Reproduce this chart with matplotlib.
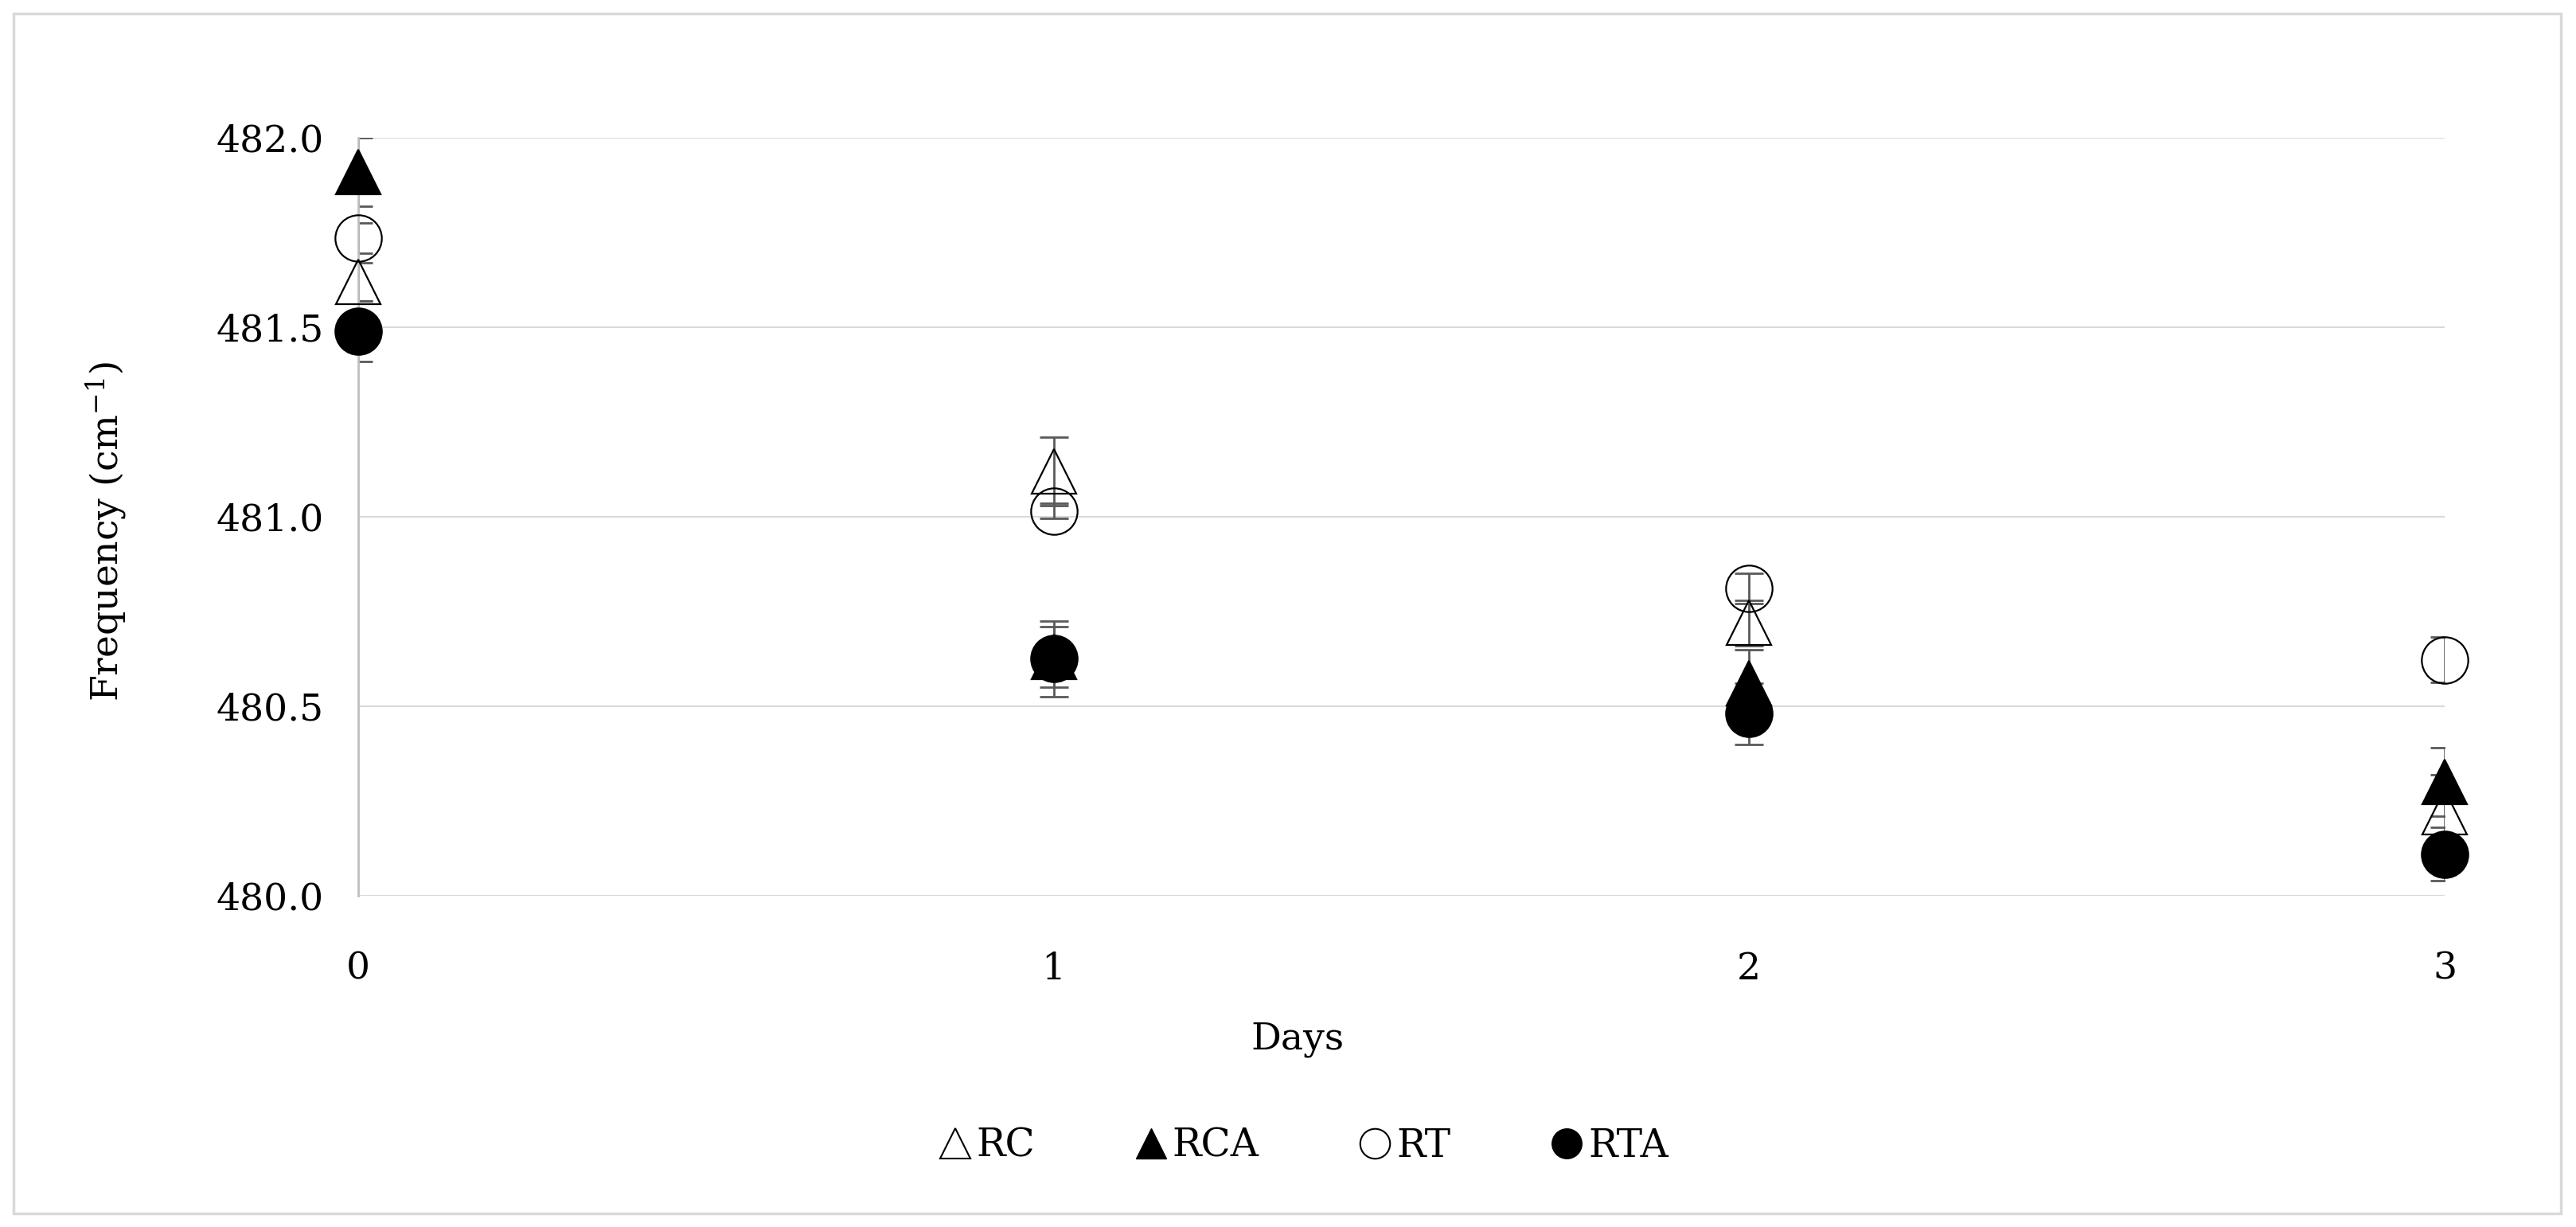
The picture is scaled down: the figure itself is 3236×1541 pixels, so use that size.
import matplotlib
matplotlib.use("Agg")
import matplotlib.pyplot as plt
from matplotlib.lines import Line2D
from matplotlib.patches import Rectangle

plt.rcParams['font.family'] = ['DejaVu Serif']
plt.rcParams['mathtext.fontset'] = 'dejavuserif'

# ================= DATA =================
days = [0, 1, 2, 3]
series = ["RC", "RCA", "RT", "RTA"]

rc = [481.62, 481.12, 480.72, 480.22]
rc_err = [0.05, 0.09, 0.06, 0.10]
rca = [481.91, 480.63, 480.56, 480.30]
rca_err = [0.09, 0.08, 0.09, 0.09]
rt = [481.735, 481.015, 480.81, 480.622]
rt_err = [0.04, 0.02, 0.04, 0.06]
rta = [481.49, 480.625, 480.48, 480.11]
rta_err = [0.08, 0.10, 0.08, 0.07]

yticks = [480.0, 480.5, 481.0, 481.5, 482.0]

# ================= FIGURE =================
fig = plt.figure(figsize=(32.37, 15.41), dpi=100)
ax = fig.add_axes([0.139, 0.270, 0.8097, 0.6177])

estilos = [
    (rc, rc_err, '^', 'none'),
    (rca, rca_err, '^', 'black'),
    (rt, rt_err, 'o', 'none'),
    (rta, rta_err, 'o', 'black'),
]

for vals, err, mk, fc in estilos:
    ax.errorbar(days, vals, yerr=err, fmt='none', ecolor='#595959',
                elinewidth=2, capsize=13, capthick=2, zorder=2)

for vals, err, mk, fc in estilos:
    ax.plot(days, vals, linestyle='none', marker=mk, markersize=40 if mk == '^' else 42,
            markerfacecolor=fc, markeredgecolor='black', markeredgewidth=1.6,
            clip_on=False, zorder=3)

ax.set_xlim(0, 3)
ax.set_ylim(480, 482)
ax.set_yticks(yticks)
ax.set_yticklabels([f"{v:.1f}" for v in yticks])
ax.set_xticks(days)
ax.yaxis.grid(True, color='#d9d9d9', linewidth=1.5)
ax.set_axisbelow(True)
for s in ['top', 'right', 'bottom']:
    ax.spines[s].set_visible(False)
ax.spines['left'].set_color('#bfbfbf')
ax.spines['left'].set_linewidth(2)
ax.tick_params(axis='both', length=0, labelsize=34)
ax.tick_params(axis='y', pad=31)
ax.tick_params(axis='x', pad=50)

fig.text(0.5036, 0.153, "Days", ha='center', va='center', fontsize=34)
fig.text(0.0414, 0.567, "Frequency (cm$^{-1}$)", ha='center', va='center',
         rotation=90, fontsize=34)

handles = [
    Line2D([], [], linestyle='none', marker='^', markersize=28, markerfacecolor='none',
           markeredgecolor='black', markeredgewidth=1.5),
    Line2D([], [], linestyle='none', marker='^', markersize=28, markerfacecolor='black',
           markeredgecolor='black'),
    Line2D([], [], linestyle='none', marker='o', markersize=27, markerfacecolor='none',
           markeredgecolor='black', markeredgewidth=1.5),
    Line2D([], [], linestyle='none', marker='o', markersize=27, markerfacecolor='black',
           markeredgecolor='black'),
]
fig.legend(handles, series, loc='center', bbox_to_anchor=(0.506, 0.066), ncol=4,
           frameon=False, fontsize=35, handlelength=0.8, handletextpad=0.15,
           columnspacing=2.6)

# borde exterior
fig.patches.append(Rectangle((0.0053, 0.011), 0.9885, 0.978, transform=fig.transFigure,
                             fill=False, edgecolor='#d9d9d9', linewidth=2.5))

fig.savefig("out.png", dpi=100)
